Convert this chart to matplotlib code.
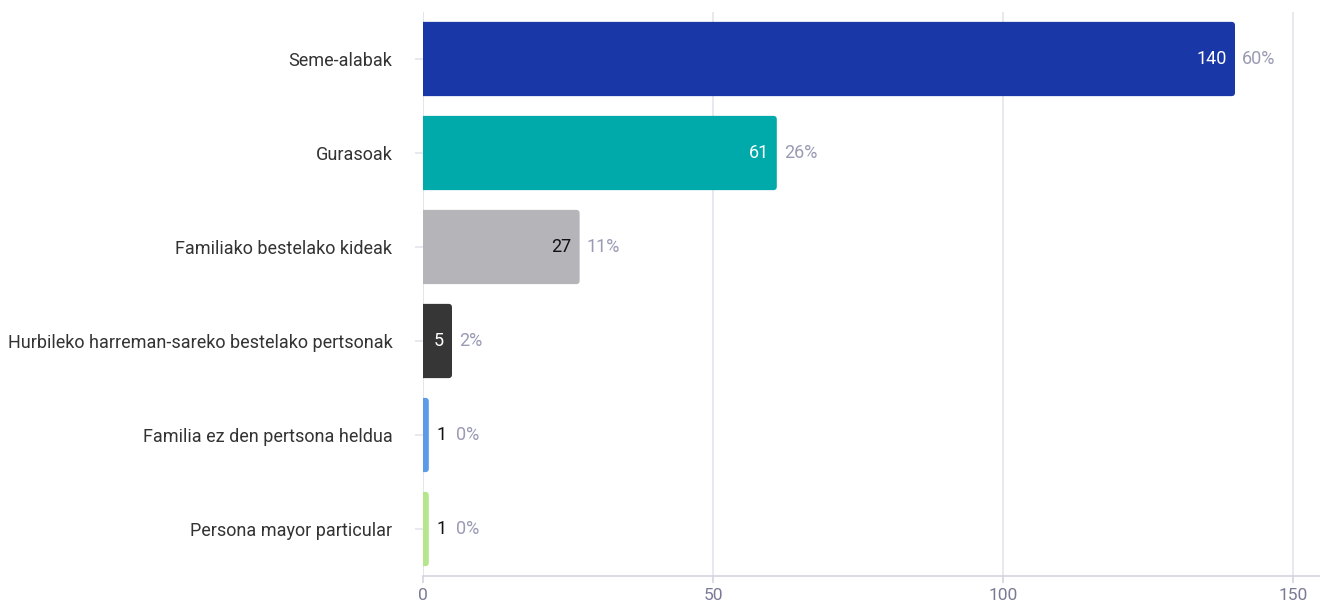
import matplotlib
matplotlib.use('Agg')
import matplotlib.pyplot as plt
from matplotlib.patches import FancyBboxPatch
import numpy as np

# chart data
categories = ["Seme-alabak", "Gurasoak", "Familiako bestelako kideak",
              "Hurbileko harreman-sareko bestelako pertsonak",
              "Familia ez den pertsona heldua", "Persona mayor particular"]
counts = [140, 61, 27, 5, 1, 1]
percents = ["60%", "26%", "11%", "2%", "0%", "0%"]
colors = ["#1a37a8", "#00aaaa", "#b4b4b9", "#363636", "#5b9be8", "#b6e68c"]
count_colors = ["white", "white", "#111111", "white", "#111111", "#111111"]
xticks = [0, 50, 100, 150]

plt.rcParams['font.family'] = ['Roboto', 'DejaVu Sans']

W, H = 1320, 601
fig = plt.figure(figsize=(W / 100, H / 100), dpi=100)
ax = fig.add_axes([423 / W, 1 - 576 / H, (W - 423) / W, (576 - 12) / H])

ax.set_ylim(len(categories) - 0.5, -0.5)
ax.set_xlim(0, (W - 423) / 5.8)

# bars with rounded right corners (left side is clipped at x=0)
ind = np.arange(len(categories))
px_x = 5.8   # pixels per x unit
px_y = 94.0  # pixels per category
bar_h = 0.79
for i, (c, col) in enumerate(zip(counts, colors)):
    p = FancyBboxPatch((-1, i - bar_h / 2), c + 1, bar_h,
                       boxstyle="round,pad=0,rounding_size=%.3f" % (3.5 / px_x),
                       mutation_aspect=px_x / px_y,
                       facecolor=col, edgecolor='none', zorder=3)
    ax.add_patch(p)

ax.set_xticks(xticks)
ax.set_yticks(ind)
ax.set_yticklabels(categories)

ax.grid(axis='x', color='#e4e4ec', linewidth=1.2, zorder=0)
for s in ['top', 'right', 'left']:
    ax.spines[s].set_visible(False)
ax.spines['bottom'].set_color('#d4d4e0')
ax.spines['bottom'].set_linewidth(1.2)
ax.axvline(0, color='#e4e4ec', linewidth=1.2, zorder=1)

ax.tick_params(axis='y', length=6, color='#e4e4ec', width=1.2, pad=16,
               labelsize=13, labelcolor='#333333')
ax.tick_params(axis='x', length=5, color='#d4d4e0', width=1.2, pad=4,
               labelsize=12.5, labelcolor='#7a7a96')

# value + percent labels
for i, (c, p) in enumerate(zip(counts, percents)):
    if c >= 5:
        ax.annotate(str(c), xy=(c, i), xytext=(-8, 0), textcoords='offset pixels',
                    ha='right', va='center', fontsize=13,
                    color=count_colors[i], zorder=4)
        ax.annotate(p, xy=(c, i), xytext=(7, 0), textcoords='offset pixels',
                    ha='left', va='center', fontsize=13, color='#9a9ab4',
                    zorder=4)
    else:
        t = ax.annotate(str(c), xy=(c, i), xytext=(8, 0), textcoords='offset pixels',
                        ha='left', va='center', fontsize=13,
                        color=count_colors[i], zorder=4)
        ax.annotate(p, xy=(1, 0.5), xycoords=t, xytext=(9, 0),
                    textcoords='offset pixels', ha='left', va='center',
                    fontsize=13, color='#9a9ab4', zorder=4)

fig.savefig("out.png", dpi=100)
